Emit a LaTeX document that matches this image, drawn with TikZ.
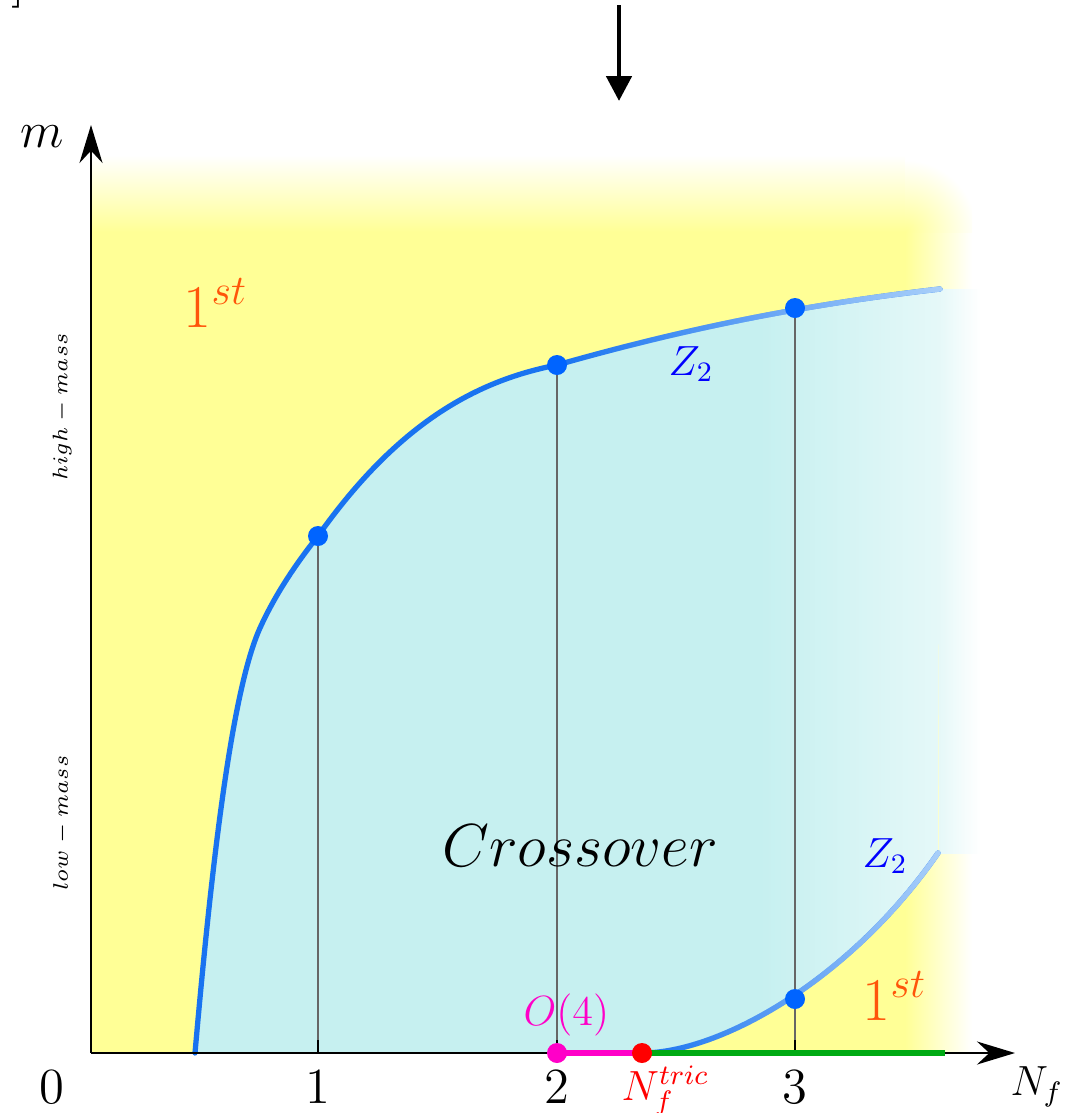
\documentclass[tikz,border=0pt]{standalone}
\usetikzlibrary{arrows.meta,fadings}

\definecolor{yel}{RGB}{255,255,150}
\definecolor{cyanfill}{RGB}{198,240,240}
\definecolor{zblue}{RGB}{25,115,240}
\definecolor{zlight}{RGB}{170,208,250}
\definecolor{dotblue}{RGB}{0,100,255}
\definecolor{firstorange}{RGB}{255,85,10}
\definecolor{ofour}{RGB}{255,0,200}
\definecolor{trigreen}{RGB}{0,170,20}

\tikzfading[name=fadein east,left color=transparent!100,right color=transparent!0]
\tikzfading[name=fadein half,left color=transparent!100,middle color=transparent!90,right color=transparent!0]

\tikzset{
  axis/.style={line width=0.7pt,black},
  zcurve/.style={line width=1.5pt,zblue,line cap=round},
  zdot/.style={circle,fill=dotblue,inner sep=0pt,minimum size=2mm},
  guide/.style={line width=0.4pt,black!60},
  lab/.style={anchor=base,inner sep=0pt},
  masslab/.style={font=\fontsize{6.4}{8}\selectfont,rotate=90},
}

\begin{document}
\begin{tikzpicture}[x=0.1mm,y=-0.1mm]
  \useasboundingbox (0,0) rectangle (1069,1113);

  % yellow background (1st order), faded at the top and at the right
  \fill[yel] (91,232) rectangle (905,1053);
  \shade[top color=white,bottom color=yel] (91,155) rectangle (905,232);
  \shade[left color=yel,right color=white] (905,232) rectangle (972,1053);
  \begin{scope}
    \clip (905,155) rectangle (972,232);
    \shade[inner color=yel,outer color=white] (905,232) circle (72);
  \end{scope}

  % crossover region between the two Z2 lines
  \begin{scope}
    \clip (195,1053) .. controls (212,860) and (232,690) .. (260,628)
      .. controls (275,595) and (295,565) .. (318,536)
      .. controls (400,420) and (480,380) .. (557,365)
      .. controls (680,330) and (800,305) .. (940,289)
      -- (938,853) .. controls (850,980) and (720,1053) .. (642,1053) -- cycle;
    \fill[cyanfill] (150,250) rectangle (760,1060);
    \shade[left color=cyanfill,right color=cyanfill!45!white] (760,250) rectangle (941,1060);
  \end{scope}
  \shade[left color=cyanfill!45!white,right color=white] (939,289) rectangle (980,853);

  \coordinate (o) at (91,1053);
  \coordinate (xend) at (1015,1053);
  \coordinate (yend) at (91,125);
  \coordinate (t1) at (318,1053);
  \coordinate (t2) at (557,1053);
  \coordinate (t3) at (795,1053);
  \coordinate (p1) at (318,536);
  \coordinate (p2) at (557,365);
  \coordinate (p3) at (795,308);
  \coordinate (p4) at (795,999);
  \coordinate (tric) at (642,1053);
  \coordinate (gend) at (945,1053);

  \foreach \i in {1,2,3} \draw[guide] (p\i) -- (t\i);

  % Z2 lines
  \draw[zcurve] (195,1053) .. controls (212,860) and (232,690) .. (260,628)
    .. controls (275,595) and (295,565) .. (p1)
    .. controls (400,420) and (480,380) .. (p2)
    .. controls (680,330) and (800,305) .. (940,289);
  \draw[zcurve,zlight,path fading=fadein east] (p2) .. controls (680,330) and (800,305) .. (940,289);
  \draw[zcurve] (tric) .. controls (720,1053) and (850,980) .. (938,853);
  \draw[zcurve,zlight,path fading=fadein half] (tric) .. controls (720,1053) and (850,980) .. (938,853);

  % axes
  \draw[axis,-{Stealth[length=3.8mm,width=2.3mm]}] (o) -- (xend);
  \draw[axis,-{Stealth[length=3.8mm,width=2.3mm]}] (o) -- (yend);
  \foreach \i in {1,2,3} \draw[line width=0.8pt] (t\i) -- ++(0,-13);
  \draw[ofour,line width=1.5pt] (t2) -- (tric);
  \draw[trigreen,line width=1.5pt] (tric) -- (gend);

  \foreach \i in {1,...,4} \node[zdot] (d\i) at (p\i) {};
  \node[zdot,fill=ofour] (o4dot) at (t2) {};
  \node[zdot,fill=red] (tricdot) at (tric) {};

  % labels
  \node[lab,font=\Large] (mlab) at (42,147) {$m$};
  \node[lab,font=\Large] (zero) at (52,1103) {$0$};
  \foreach \i/\x in {1/318,2/557,3/795} \node[lab,font=\Large] (n\i) at (\x,1103) {$\i$};
  \node[lab,anchor=base west,font=\LARGE,firstorange] (firsttop) at (183,327) {$1^{st}$};
  \node[lab,anchor=base west,font=\large,blue] (ztop) at (668,375) {$Z_2$};
  \node[lab,font=\LARGE] (cross) at (580,866) {$Crossover$};
  \node[lab,anchor=base west,font=\large,blue] (zbot) at (862,867) {$Z_2$};
  \node[lab,anchor=base west,font=\LARGE,firstorange] (firstbot) at (862,1020) {$1^{st}$};
  \node[lab,anchor=base west,font=\large,ofour] (o4) at (523,1025) {$O(4)$};
  \node[lab,anchor=base west,font=\large,red] (trlab) at (621,1100) {$N_f^{tric}$};
  \node[lab,anchor=base west,font=\large] (nf) at (1010,1095) {$N_f$};
  \node[masslab] (hm) at (62,407) {$high-mass$};
  \node[masslab] (lm) at (62,823) {$low-mass$};

  % arrow from above
  \coordinate (arrtop) at (619,5);
  \coordinate (arrbot) at (619,101);
  \draw[line width=1.4pt,-{Triangle[length=2.5mm,width=2.5mm]}] (arrtop) -- (arrbot);
  \node[anchor=south east,inner sep=0pt,font=\Large] (brk) at (26,9) {]};
\end{tikzpicture}
\end{document}
